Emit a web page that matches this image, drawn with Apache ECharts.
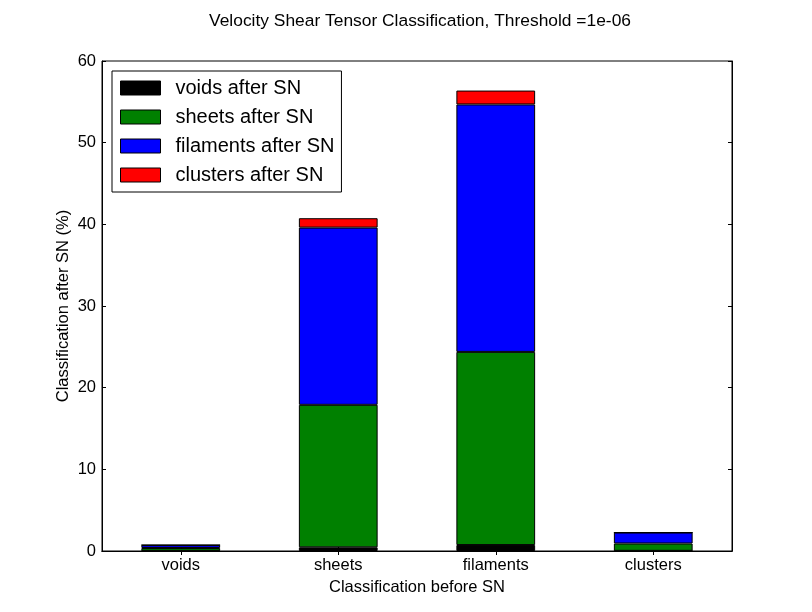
<!DOCTYPE html>
<html>
<head>
<meta charset="utf-8">
<script src="https://cdn.jsdelivr.net/npm/echarts@6/dist/echarts.min.js"></script>
<style>html,body{margin:0;padding:0;background:#fff}#c{width:812px;height:612px}</style>
</head>
<body>
<div id="c"></div>
<script>
const categories = ['voids', 'sheets', 'filaments', 'clusters'];
const seriesNames = ['voids after SN', 'sheets after SN', 'filaments after SN', 'clusters after SN'];
const voidsAfter = [0.02, 0.45, 0.73, 0.02];
const sheetsAfter = [0.35, 17.45, 23.65, 0.9];
const filamentsAfter = [0.35, 21.7, 30.3, 1.34];
const clustersAfter = [0.01, 1.15, 1.7, 0.01];
const yTicks = [0, 10, 20, 30, 40, 50, 60];
const colors = ['#000000', '#008000', '#0000ff', '#ff0000'];

const font = 'Liberation Sans, Arial, sans-serif';
const values = [voidsAfter, sheetsAfter, filamentsAfter, clustersAfter];
const chart = echarts.init(document.getElementById('c'));
const axisLine = { show: true, lineStyle: { color: '#000', width: 1 } };
const tick = { show: true, inside: true, length: 4, lineStyle: { color: '#000' } };
chart.setOption({
  animation: false,
  backgroundColor: '#fff',
  title: {
    text: 'Velocity Shear Tensor Classification, Threshold =1e-06',
    left: 415, top: 8, textAlign: 'center',
    textStyle: { fontFamily: font, fontSize: 17.4, fontWeight: 'normal', color: '#000' }
  },
  grid: { left: 102, right: 80, top: 61, bottom: 61, show: true, borderColor: '#000', borderWidth: 1 },
  legend: {
    orient: 'vertical', left: 112, top: 71,
    data: seriesNames,
    itemWidth: 40, itemHeight: 14, itemGap: 9,
    padding: [7, 7, 7, 8],
    borderColor: '#000', borderWidth: 1, borderRadius: 0,
    backgroundColor: '#fff',
    icon: 'rect',
    textStyle: { fontFamily: font, fontSize: 20, lineHeight: 20, color: '#000', padding: [0, 0, 0, 10] },
    itemStyle: { borderColor: '#000', borderWidth: 1 }
  },
  xAxis: [{
    type: 'category', data: categories, position: 'bottom',
    name: 'Classification before SN', nameLocation: 'middle', nameGap: 28,
    nameTextStyle: { fontFamily: font, fontSize: 16.5, color: '#000' },
    axisLine, axisTick: Object.assign({ alignWithLabel: true }, tick),
    axisLabel: { fontFamily: font, fontSize: 16.5, color: '#000', margin: 6 },
    splitLine: { show: false }
  }, {
    type: 'category', data: categories, position: 'top',
    axisLine, axisTick: Object.assign({ alignWithLabel: true }, tick),
    axisLabel: { show: false }, splitLine: { show: false }
  }],
  yAxis: [{
    type: 'value', min: 0, max: 60, interval: 10,
    name: 'Classification after SN (%)', nameLocation: 'middle', nameGap: 30,
    nameMoveOverlap: false,
    nameTextStyle: { fontFamily: font, fontSize: 16.5, color: '#000' },
    axisLine, axisTick: tick,
    axisLabel: { fontFamily: font, fontSize: 16.5, color: '#000', margin: 6,
      formatter: v => yTicks.includes(v) ? String(v) : '' },
    splitLine: { show: false }
  }, {
    type: 'value', min: 0, max: 60, interval: 10, position: 'right',
    axisLine, axisTick: tick, axisLabel: { show: false }, splitLine: { show: false }
  }],
  series: seriesNames.map((n, i) => ({
    name: n, type: 'bar', stack: 'total', barWidth: '50%',
    data: values[i],
    itemStyle: { color: colors[i], borderColor: '#000', borderWidth: 1 }
  }))
});
</script>
</body>
</html>
